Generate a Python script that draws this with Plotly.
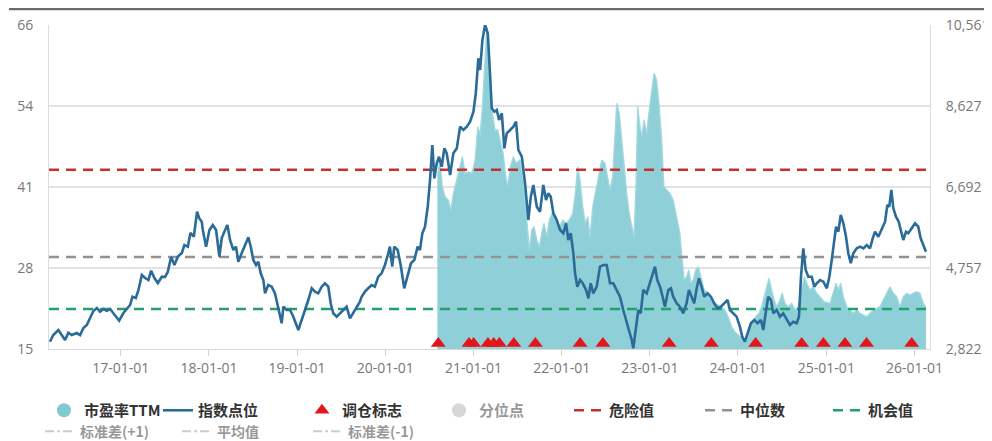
import numpy as np
import pandas as pd
import plotly.graph_objects as go

# ---------------- data (time as decimal years) ----------------
idx_t = [
    2016.198, 2016.236, 2016.293, 2016.331, 2016.369, 2016.406, 2016.444, 2016.501, 2016.539, 2016.576,
    2016.615, 2016.652, 2016.689, 2016.728, 2016.765, 2016.803, 2016.841, 2016.879, 2016.916, 2016.955,
    2016.981, 2017.029, 2017.068, 2017.105, 2017.132, 2017.170, 2017.200, 2017.238, 2017.276, 2017.313,
    2017.344, 2017.381, 2017.420, 2017.465, 2017.502, 2017.533, 2017.570, 2017.608, 2017.646, 2017.692,
    2017.721, 2017.760, 2017.789, 2017.828, 2017.865, 2017.888, 2017.918, 2017.930, 2017.967, 2018.005,
    2018.043, 2018.081, 2018.118, 2018.145, 2018.183, 2018.209, 2018.239, 2018.277, 2018.307, 2018.333,
    2018.372, 2018.409, 2018.447, 2018.474, 2018.503, 2018.534, 2018.560, 2018.587, 2018.617, 2018.636,
    2018.673, 2018.712, 2018.749, 2018.787, 2018.825, 2018.844, 2018.882, 2018.920, 2018.957, 2019.014,
    2019.052, 2019.090, 2019.127, 2019.166, 2019.203, 2019.240, 2019.279, 2019.316, 2019.354, 2019.381,
    2019.410, 2019.449, 2019.486, 2019.524, 2019.562, 2019.600, 2019.637, 2019.676, 2019.713, 2019.732,
    2019.770, 2019.807, 2019.846, 2019.883, 2019.921, 2019.959, 2019.997, 2020.034, 2020.053, 2020.079,
    2020.102, 2020.141, 2020.178, 2020.215, 2020.254, 2020.291, 2020.329, 2020.367, 2020.393, 2020.420,
    2020.450, 2020.481, 2020.507, 2020.533, 2020.556, 2020.583, 2020.609, 2020.639, 2020.669, 2020.696,
    2020.734, 2020.771, 2020.810, 2020.847, 2020.884, 2020.923, 2020.960, 2020.998, 2021.025, 2021.054,
    2021.074, 2021.100, 2021.130, 2021.161, 2021.184, 2021.206, 2021.236, 2021.263, 2021.289, 2021.320,
    2021.349, 2021.376, 2021.414, 2021.451, 2021.482, 2021.508, 2021.547, 2021.584, 2021.621, 2021.649,
    2021.678, 2021.717, 2021.754, 2021.791, 2021.822, 2021.848, 2021.875, 2021.905, 2021.943, 2021.981,
    2022.018, 2022.049, 2022.075, 2022.102, 2022.132, 2022.151, 2022.177, 2022.208, 2022.238, 2022.276,
    2022.302, 2022.329, 2022.358, 2022.397, 2022.434, 2022.472, 2022.510, 2022.548, 2022.585, 2022.624,
    2022.661, 2022.698, 2022.737, 2022.766, 2022.794, 2022.812, 2022.842, 2022.869, 2022.896, 2022.925,
    2022.964, 2023.001, 2023.032, 2023.058, 2023.084, 2023.115, 2023.145, 2023.171, 2023.209, 2023.239,
    2023.265, 2023.304, 2023.341, 2023.379, 2023.417, 2023.443, 2023.474, 2023.503, 2023.531, 2023.557,
    2023.587, 2023.617, 2023.655, 2023.693, 2023.730, 2023.769, 2023.806, 2023.844, 2023.882, 2023.908,
    2023.946, 2023.984, 2024.022, 2024.048, 2024.078, 2024.116, 2024.146, 2024.184, 2024.222, 2024.260,
    2024.286, 2024.313, 2024.342, 2024.373, 2024.399, 2024.438, 2024.475, 2024.512, 2024.551, 2024.588,
    2024.626, 2024.664, 2024.690, 2024.713, 2024.739, 2024.766, 2024.796, 2024.834, 2024.864, 2024.891,
    2024.929, 2024.966, 2025.005, 2025.034, 2025.061, 2025.087, 2025.110, 2025.136, 2025.163, 2025.193,
    2025.223, 2025.249, 2025.277, 2025.306, 2025.345, 2025.382, 2025.420, 2025.458, 2025.495, 2025.526,
    2025.552, 2025.590, 2025.628, 2025.666, 2025.692, 2025.714, 2025.737, 2025.760, 2025.790, 2025.821,
    2025.844, 2025.873, 2025.904, 2025.930, 2025.968, 2026.006, 2026.043, 2026.070, 2026.100, 2026.130,
]
idx_v = [
    2996, 3156, 3276, 3156, 3037, 3211, 3156, 3204, 3156, 3324,
    3395, 3562, 3730, 3801, 3713, 3777, 3737, 3777, 3682, 3562,
    3498, 3682, 3777, 3873, 4071, 4040, 4231, 4590, 4518, 4470,
    4692, 4518, 4398, 4549, 4542, 4668, 5020, 4828, 5027, 5115,
    5306, 5266, 5593, 5504, 6102, 5951, 5863, 5664, 5266, 5664,
    5784, 5664, 5027, 5473, 5664, 5784, 5426, 5187, 5266, 4907,
    5115, 5306, 5490, 5266, 4948, 4828, 4907, 4630, 4470, 4152,
    4351, 4310, 4152, 3794, 3436, 3832, 3754, 3754, 3594, 3276,
    3515, 3713, 3992, 4272, 4191, 4152, 4310, 4391, 4310, 3914,
    3675, 3594, 3675, 3754, 3832, 3555, 3675, 3832, 3952, 4071,
    4191, 4272, 4351, 4310, 4549, 4630, 4828, 5108, 5266, 4788,
    5266, 5187, 4788, 4272, 4549, 4869, 4948, 5266, 5187, 5586,
    5743, 6221, 6859, 7695, 6899, 7258, 7415, 7176, 7616, 7497,
    6978, 7497, 7616, 8132, 8053, 8132, 8251, 8490, 8930, 9766,
    9486, 10203, 10561, 10363, 9486, 8571, 8490, 8531, 8292, 8452,
    7616, 7974, 8053, 8132, 8251, 7575, 7415, 6780, 5903, 6460,
    6739, 6221, 6102, 6739, 6381, 6541, 6460, 6063, 5903, 5664,
    5586, 5824, 5426, 5586, 5108, 4630, 4310, 4470, 4391, 4231,
    4033, 4391, 4152, 4310, 4788, 4828, 4828, 4391, 4391, 4231,
    4071, 3754, 3474, 3276, 3037, 2840, 3276, 3754, 3675, 4231,
    4152, 4391, 4630, 4788, 4470, 4310, 4071, 3832, 4231, 4272,
    4071, 3914, 3832, 3675, 3914, 4231, 4071, 3914, 4272, 4511,
    4310, 4071, 4152, 4071, 3914, 3794, 3832, 3914, 3992, 3754,
    3675, 3594, 3355, 3116, 2996, 3276, 3436, 3515, 3436, 3515,
    3276, 3675, 4071, 3992, 3675, 3754, 3594, 3675, 3515, 3395,
    3474, 3436, 3594, 4549, 5227, 4709, 4549, 4549, 4310, 4391,
    4470, 4430, 4272, 4549, 4948, 5347, 5743, 5624, 6023, 5824,
    5504, 5108, 4869, 5108, 5227, 5266, 5227, 5306, 5227, 5466,
    5624, 5504, 5664, 5863, 6262, 6221, 6620, 6183, 5982, 5863,
    5664, 5426, 5624, 5586, 5705, 5824, 5743, 5466, 5306, 5146,
]

pe_t = [
    2020.590, 2020.620, 2020.646, 2020.677, 2020.714, 2020.742, 2020.771, 2020.810, 2020.847, 2020.873,
    2020.904, 2020.941, 2020.980, 2021.017, 2021.048, 2021.074, 2021.100, 2021.130, 2021.150, 2021.168,
    2021.187, 2021.213, 2021.244, 2021.274, 2021.304, 2021.335, 2021.365, 2021.388, 2021.417, 2021.451,
    2021.482, 2021.527, 2021.565, 2021.603, 2021.633, 2021.660, 2021.686, 2021.717, 2021.746, 2021.773,
    2021.799, 2021.830, 2021.859, 2021.898, 2021.935, 2021.973, 2022.011, 2022.049, 2022.086, 2022.125,
    2022.154, 2022.181, 2022.208, 2022.238, 2022.268, 2022.295, 2022.321, 2022.352, 2022.381, 2022.415,
    2022.454, 2022.491, 2022.517, 2022.548, 2022.578, 2022.604, 2022.624, 2022.653, 2022.684, 2022.710,
    2022.737, 2022.766, 2022.797, 2022.820, 2022.842, 2022.862, 2022.888, 2022.910, 2022.933, 2022.964,
    2022.993, 2023.020, 2023.047, 2023.077, 2023.107, 2023.134, 2023.160, 2023.191, 2023.228, 2023.265,
    2023.304, 2023.341, 2023.367, 2023.390, 2023.417, 2023.443, 2023.466, 2023.492, 2023.519, 2023.549,
    2023.579, 2023.617, 2023.655, 2023.701, 2023.738, 2023.776, 2023.814, 2023.852, 2023.889, 2023.927,
    2023.965, 2024.002, 2024.048, 2024.086, 2024.124, 2024.161, 2024.200, 2024.237, 2024.268, 2024.297,
    2024.324, 2024.350, 2024.381, 2024.410, 2024.438, 2024.475, 2024.501, 2024.532, 2024.569, 2024.608,
    2024.645, 2024.683, 2024.721, 2024.751, 2024.778, 2024.815, 2024.853, 2024.891, 2024.929, 2024.977,
    2025.042, 2025.079, 2025.110, 2025.136, 2025.163, 2025.193, 2025.231, 2025.269, 2025.306, 2025.345,
    2025.382, 2025.420, 2025.458, 2025.495, 2025.533, 2025.571, 2025.609, 2025.646, 2025.685, 2025.722,
    2025.760, 2025.798, 2025.836, 2025.873, 2025.912, 2025.949, 2025.986, 2026.025, 2026.062, 2026.100,
    2026.130,
]
pe_v = [
    42.52, 45.15, 40.95, 39.37, 38.85, 37.28, 39.91, 42.00, 44.10, 45.67,
    43.06, 43.31, 43.06, 45.15, 50.39, 49.09, 53.54, 60.89, 66.13, 61.95,
    55.65, 52.50, 49.87, 49.87, 48.30, 46.21, 42.52, 40.95, 44.10, 45.67,
    44.63, 45.15, 42.00, 35.71, 30.98, 34.13, 34.65, 32.56, 31.50, 33.61,
    35.19, 33.08, 35.71, 37.01, 36.23, 34.65, 35.71, 35.19, 35.71, 36.76,
    39.91, 44.10, 42.00, 37.80, 35.19, 36.23, 33.08, 37.80, 39.91, 42.52,
    45.15, 44.63, 42.52, 40.43, 42.52, 49.35, 54.08, 52.50, 48.30, 44.10,
    39.91, 36.76, 34.65, 33.08, 40.95, 53.54, 50.39, 48.82, 51.45, 49.35,
    53.02, 55.65, 58.80, 57.74, 53.54, 48.30, 40.95, 40.43, 39.91, 38.85,
    36.23, 33.61, 29.41, 26.26, 26.78, 27.84, 25.74, 26.26, 27.84, 28.35,
    26.78, 24.69, 24.17, 23.38, 22.59, 22.33, 22.06, 21.54, 20.48, 18.91,
    18.12, 17.60, 17.08, 16.82, 18.39, 19.45, 20.48, 21.02, 22.06, 23.63,
    25.21, 26.53, 24.69, 23.11, 22.06, 23.11, 24.17, 22.59, 22.06, 22.59,
    21.54, 22.06, 24.69, 26.78, 25.74, 24.69, 25.21, 24.17, 23.59, 22.80,
    22.59, 24.17, 25.74, 24.69, 25.74, 23.63, 22.06, 21.54, 21.02, 21.54,
    21.02, 20.75, 20.48, 21.02, 21.54, 21.81, 22.06, 23.11, 24.17, 25.21,
    24.17, 23.63, 22.06, 23.63, 24.17, 23.90, 24.17, 24.42, 24.17, 22.59,
    22.06,
]

rebalance_t = [2020.600, 2020.948, 2021.000, 2021.163, 2021.228, 2021.292, 2021.456, 2021.701,
               2022.209, 2022.467, 2023.219, 2023.697, 2024.200, 2024.720, 2024.966, 2025.211,
               2025.456, 2025.968]

DANGER = 43.6    # 危险值
MEDIAN = 29.9    # 中位数
CHANCE = 21.7    # 机会值

PE_TICKTEXT = ["15", "28", "41", "54", "66"]
IDX_TICKTEXT = ["2,822", "4,757", "6,692", "8,627", "10,561"]
X_TICK_YEARS = list(range(2017, 2027))

# ---------------- helpers ----------------
def to_dt(t):
    y = int(np.floor(t))
    s = pd.Timestamp(year=y, month=1, day=1)
    e = pd.Timestamp(year=y + 1, month=1, day=1)
    return s + (e - s) * (t - y)

assert len(idx_t) == len(idx_v), (len(idx_t), len(idx_v))
assert len(pe_t) == len(pe_v), (len(pe_t), len(pe_v))

idx_x = [to_dt(t) for t in idx_t]
pe_x = [to_dt(t) for t in pe_t]
reb_x = [to_dt(t) for t in rebalance_t]

X_RANGE = [to_dt(2016.187), to_dt(2026.176)]
PE_RANGE = [15.4, 66.4]
IDX_RANGE = [2822, 10561]

TICK_FONT = dict(family="Open Sans, Noto Sans, sans-serif", size=14, color="#777777")
LEG_FONT = dict(family="Noto Sans CJK SC, sans-serif", size=15, color="#333333", weight="bold")
LEG2_FONT = dict(family="Noto Sans CJK SC, sans-serif", size=14, color="#333333", weight="bold")

fig = go.Figure()

# PE TTM area
fig.add_trace(go.Scatter(
    x=pe_x, y=pe_v, mode="lines", fill="tozeroy",
    fillcolor="#8fd0d8", line=dict(color="#a2d9df", width=1.3),
    showlegend=False, hoverinfo="skip", yaxis="y"))

# threshold lines
for name, val, col, rank, lw in [("危险值", DANGER, "#c62f2f", 5, 86),
                                 ("中位数", MEDIAN, "#929292", 6, 83),
                                 ("机会值", CHANCE, "#23a06b", 7, 70)]:
    fig.add_trace(go.Scatter(
        x=X_RANGE, y=[val, val], mode="lines", name=name,
        line=dict(color=col, width=2.5, dash="10px,7px"),
        legend="legend", legendrank=rank, legendwidth=lw, hoverinfo="skip"))

# rebalance markers
fig.add_trace(go.Scatter(
    x=reb_x, y=[PE_RANGE[0] + 0.85] * len(reb_x), mode="markers", name="调仓标志",
    marker=dict(symbol="triangle-up", size=13, color="#e3161b"),
    cliponaxis=False, legend="legend", legendrank=3, legendwidth=92))

# index line
fig.add_trace(go.Scatter(
    x=idx_x, y=idx_v, mode="lines", name="指数点位", yaxis="y2",
    line=dict(color="#2a6b98", width=2.6),
    legend="legend", legendrank=2, legendwidth=99))

# legend-only entries
fig.add_trace(go.Scatter(
    x=[None], y=[None], mode="markers", name="市盈率TTM",
    marker=dict(symbol="circle", size=14, color="#7fcbd4"),
    legend="legend", legendrank=1, legendwidth=69))
fig.add_trace(go.Scatter(
    x=[None], y=[None], mode="markers", name="分位点", visible="legendonly",
    marker=dict(symbol="circle", size=14, color="#b0b0b0"),
    legend="legend", legendrank=4, legendwidth=85))
for name, rank, lw in [("标准差(+1)", 1, 92), ("平均值", 2, 86), ("标准差(-1)", 3, 90)]:
    fig.add_trace(go.Scatter(
        x=[None], y=[None], mode="lines", name=name, visible="legendonly",
        line=dict(color="#9a9a9a", width=2, dash="dashdot"),
        legend="legend2", legendrank=rank, legendwidth=lw))

pe_tickvals = list(np.linspace(PE_RANGE[0], PE_RANGE[1], 5))
idx_tickvals = list(np.linspace(IDX_RANGE[0], IDX_RANGE[1], 5))

# page body adds an 8px offset, so the figure is 984x433 and starts at (8, 8)
fig.update_layout(
    width=984, height=433,
    margin=dict(l=41, r=62, t=17, b=92, autoexpand=False),
    paper_bgcolor="white", plot_bgcolor="white",
    xaxis=dict(type="date", range=X_RANGE,
               tickvals=[to_dt(y) for y in X_TICK_YEARS], tickformat="%y-%m-%d",
               showgrid=False, showline=True, linecolor="#d9d9d9", linewidth=1,
               ticks="outside", ticklen=6, tickcolor="#d0d0d0",
               tickfont=TICK_FONT, zeroline=False),
    yaxis=dict(range=PE_RANGE, tickvals=pe_tickvals, ticktext=PE_TICKTEXT,
               showgrid=True, gridcolor="#e2e2e2", gridwidth=1.5,
               showline=True, linecolor="#dddddd", zeroline=False,
               ticks="", tickfont=TICK_FONT, ticklabelstandoff=12),
    yaxis2=dict(range=IDX_RANGE, tickvals=idx_tickvals, ticktext=IDX_TICKTEXT,
                overlaying="y", side="right", showgrid=False,
                showline=True, linecolor="#dddddd", zeroline=False,
                ticks="", tickfont=TICK_FONT, ticklabelstandoff=12),
    legend=dict(orientation="h", x=-0.0057, xanchor="left", y=-0.139, yanchor="top",
                font=LEG_FONT, entrywidthmode="pixels", itemwidth=30,
                bgcolor="rgba(0,0,0,0)", traceorder="normal"),
    legend2=dict(orientation="h", x=-0.0102, xanchor="left", y=-0.206, yanchor="top",
                 font=LEG2_FONT, entrywidthmode="pixels", itemwidth=30,
                 bgcolor="rgba(0,0,0,0)", traceorder="normal"),
    shapes=[dict(type="line", xref="paper", yref="paper", x0=-0.0454, x1=1.068,
                 y0=1.049, y1=1.049, line=dict(color="#6b6b6b", width=2.2))],
    showlegend=True,
)

fig.write_html("out.html")
